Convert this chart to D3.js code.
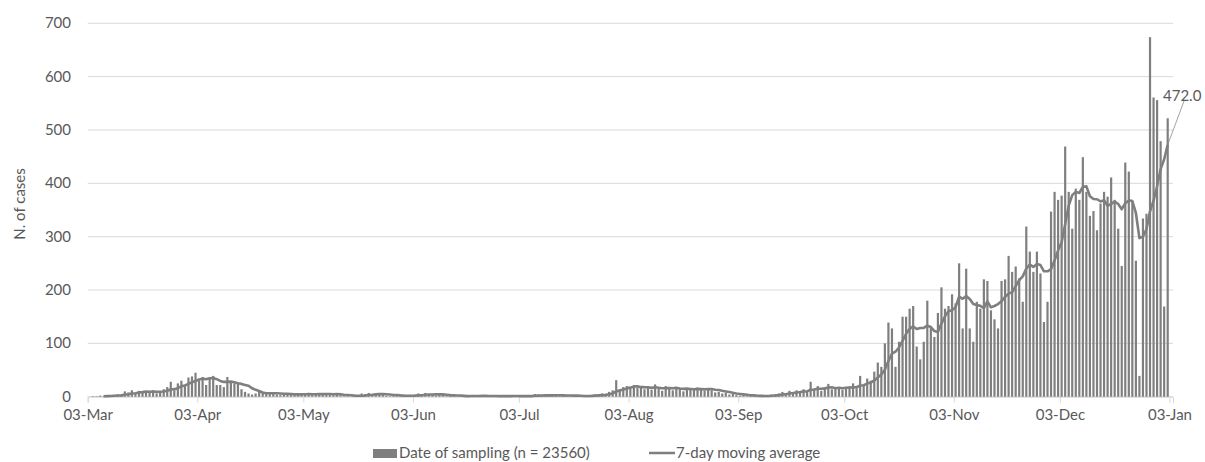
<!DOCTYPE html>
<html>
<head>
<meta charset="utf-8">
<script src="https://cdn.jsdelivr.net/npm/d3@7"></script>
<style>
  body { margin: 0; background: #fff; }
  svg text { font-family: Lato, "Open Sans", sans-serif; fill: #595959; }
</style>
</head>
<body>
<div id="chart"></div>
<script>
// Daily cases by date of sampling, one value per day starting 01-Mar-2020
const firstDay = "2020-03-01";
const mar = [0, 1, 0, 1, 1, 2, 1, 2, 3, 2, 4, 3, 10, 8, 12, 7, 11, 9, 10, 8, 12, 6, 9, 14, 18, 28, 12, 25, 30, 20, 36];
const apr = [38, 45, 31, 37, 22, 34, 39, 22, 22, 18, 37, 26, 25, 26, 14, 9, 6, 4, 6, 9, 7, 5, 8, 6, 4, 3, 6, 5, 4, 3];
const may = [6, 4, 5, 7, 3, 5, 6, 4, 5, 6, 3, 5, 2, 1, 1, 0, 2, 1, 6, 5, 7, 4, 6, 5, 3, 2, 1, 2, 3, 1, 2];
const jun = [2, 1, 3, 6, 5, 7, 4, 3, 2, 5, 4, 1, 2, 1, 0, 2, 1, 1, 3, 2, 1, 2, 1, 0, 1, 2, 1, 2, 1, 1];
const jul = [2, 1, 0, 1, 2, 1, 5, 4, 3, 2, 1, 1, 4, 5, 2, 1, 1, 0, 2, 2, 1, 3, 2, 4, 3, 6, 5, 9, 12, 31, 14];
const aug = [18, 20, 15, 22, 17, 19, 14, 16, 13, 23, 15, 11, 20, 17, 12, 18, 15, 10, 14, 16, 13, 17, 15, 11, 16, 12, 8, 9, 6, 7, 4];
const sep = [5, 3, 2, 3, 1, 2, 1, 0, 2, 1, 3, 4, 5, 6, 9, 5, 11, 8, 12, 10, 14, 9, 28, 12, 20, 11, 15, 24, 14, 16];
const oct = [18, 13, 17, 19, 25, 16, 39, 22, 34, 30, 47, 64, 56, 100, 139, 128, 56, 103, 150, 150, 165, 170, 94, 70, 103, 180, 132, 112, 157, 205, 165];
const nov = [170, 192, 175, 250, 128, 240, 128, 103, 178, 165, 220, 217, 162, 145, 128, 217, 220, 264, 234, 244, 222, 178, 319, 272, 234, 272, 231, 140, 178, 347];
const dec = [384, 369, 377, 469, 384, 315, 390, 369, 449, 384, 339, 348, 312, 362, 384, 375, 411, 369, 315, 245, 439, 422, 366, 255, 39, 334, 343, 674, 561, 556, 479];
const jan = [169, 522];

const tickDates = ["2020-03-03", "2020-04-03", "2020-05-03", "2020-06-03", "2020-07-03", "2020-08-03",
  "2020-09-03", "2020-10-03", "2020-11-03", "2020-12-03", "2021-01-03"];
const yTicks = [0, 100, 200, 300, 400, 500, 600, 700];
const seriesNames = ["Date of sampling (n = 23560)", "7-day moving average"];
const yTitle = "N. of cases";

const width = 1205, height = 462;
const plot = { left: 87.7, right: 1173, top: 23.3, bottom: 396.7 };
const grey = "#7f7f7f", gridColor = "#d9d9d9";

const cases = [].concat(mar, apr, may, jun, jul, aug, sep, oct, nov, dec, jan);
const day0 = new Date(firstDay + "T00:00:00Z");
const data = cases.map((v, k) => ({ date: d3.utcDay.offset(day0, k), value: v }));

// trailing 7-day moving average (like the Excel trendline)
const ma = data.slice(6).map((d, k) => ({
  date: d.date,
  value: d3.mean(cases.slice(k, k + 7))
}));

const x = d3.scaleUtc()
  .domain([new Date("2020-03-03T00:00:00Z"), new Date("2021-01-04T00:00:00Z")])
  .range([plot.left, plot.right]);
const dayW = x(d3.utcDay.offset(day0, 1)) - x(day0);
const y = d3.scaleLinear().domain([0, 700]).range([plot.bottom, plot.top]);

const svg = d3.select("#chart").append("svg")
  .attr("width", width)
  .attr("height", height);

// gridlines
svg.append("g").selectAll("line")
  .data(yTicks)
  .enter().append("line")
    .attr("x1", plot.left).attr("x2", plot.right)
    .attr("y1", d => y(d)).attr("y2", d => y(d))
    .attr("stroke", gridColor).attr("stroke-width", 1);

// y labels
svg.append("g").selectAll("text")
  .data(yTicks)
  .enter().append("text")
    .attr("x", 71)
    .attr("y", d => y(d) + 5)
    .attr("text-anchor", "end")
    .attr("font-size", 15)
    .text(d => d);

svg.append("text")
  .attr("transform", "translate(25," + (y(350) - 6) + ") rotate(-90)")
  .attr("text-anchor", "middle")
  .attr("font-size", 15)
  .text(yTitle);

// x axis
const ticks = tickDates.map(s => new Date(s + "T00:00:00Z"));
const xAxis = d3.axisBottom(x)
  .tickValues(ticks)
  .tickSize(6)
  .tickPadding(7)
  .tickFormat(d3.utcFormat("%d-%b"));
const gx = svg.append("g")
  .attr("transform", "translate(0," + plot.bottom + ")")
  .call(xAxis);
gx.select(".domain").attr("stroke", gridColor);
gx.selectAll(".tick line").attr("stroke", gridColor);
gx.selectAll(".tick text")
  .attr("font-size", 15)
  .attr("fill", "#595959")
  .attr("font-family", "Lato, 'Open Sans', sans-serif");

// bars
const barW = dayW * 0.62;
svg.append("g").selectAll("rect")
  .data(data.filter(d => d.date >= x.domain()[0]))
  .enter().append("rect")
    .attr("x", d => x(d.date) + (dayW - barW) / 2)
    .attr("width", barW)
    .attr("y", d => y(d.value))
    .attr("height", d => plot.bottom - y(d.value))
    .attr("fill", grey);

// moving average line
const line = d3.line()
  .x(d => x(d.date) + dayW / 2)
  .y(d => y(d.value));
svg.append("path")
  .datum(ma)
  .attr("d", line)
  .attr("fill", "none")
  .attr("stroke", grey)
  .attr("stroke-width", 2.6)
  .attr("stroke-linejoin", "round");

// label on the last average value
const last = ma[ma.length - 1];
const lx = x(last.date) + dayW / 2, ly = y(last.value);
svg.append("line")
  .attr("x1", lx).attr("y1", ly)
  .attr("x2", 1184).attr("y2", 101)
  .attr("stroke", "#8c8c8c").attr("stroke-width", 0.8);
svg.append("text")
  .attr("x", 1163).attr("y", 101)
  .attr("font-size", 15)
  .text(d3.format(".1f")(last.value));

// legend
const lg = svg.append("g");
lg.append("rect")
  .attr("x", 373).attr("y", 449)
  .attr("width", 24).attr("height", 9)
  .attr("fill", grey);
lg.append("text")
  .attr("x", 399).attr("y", 458)
  .attr("font-size", 15)
  .text(seriesNames[0]);
lg.append("line")
  .attr("x1", 649).attr("x2", 675)
  .attr("y1", 453).attr("y2", 453)
  .attr("stroke", grey).attr("stroke-width", 2.5);
lg.append("text")
  .attr("x", 676).attr("y", 458)
  .attr("font-size", 15)
  .text(seriesNames[1]);
</script>
</body>
</html>
